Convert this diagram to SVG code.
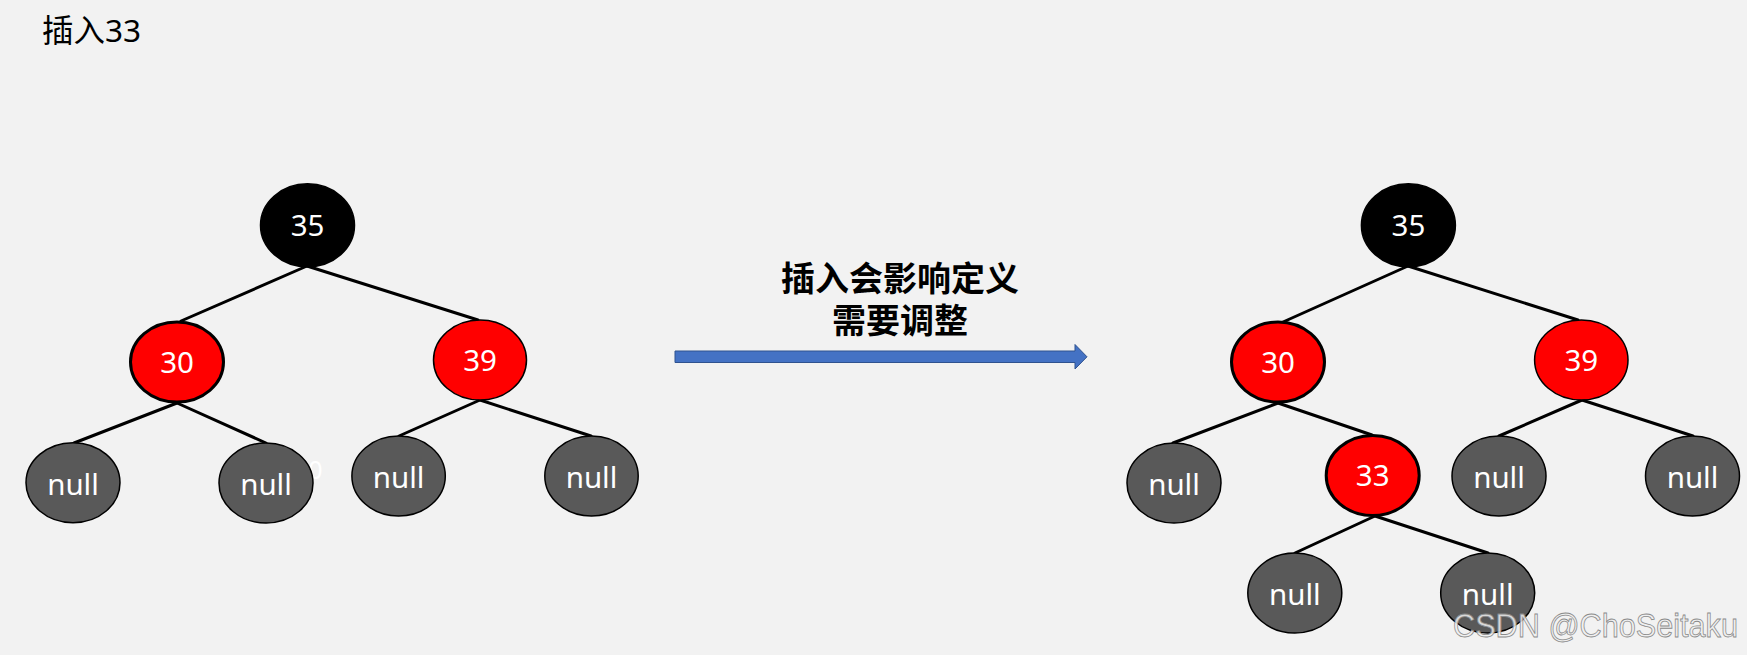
<svg xmlns="http://www.w3.org/2000/svg" width="1747" height="655" viewBox="0 0 1747 655">
<defs>
<style>
.bg{fill:#F2F2F2}
.edge{stroke:#000;stroke-width:3;fill:none;stroke-linecap:round}
.blk{fill:#000;stroke:#000;stroke-width:1.5}
.red{fill:#FF0000;stroke:#000;stroke-width:1.5}
.red2{fill:#FF0000;stroke:#000;stroke-width:3}
.nul{fill:#595959;stroke:#000;stroke-width:1.5}
.lbl{font-family:"Noto Sans","Open Sans","Liberation Sans",sans-serif;font-size:29.5px;fill:#fff;text-anchor:middle}
.cap{font-family:"Noto Sans CJK SC","Noto Sans",sans-serif;font-weight:bold;font-size:34px;fill:#000;text-anchor:middle}
.title{font-family:"Noto Sans","Noto Sans CJK SC",sans-serif;font-size:31.5px;fill:#000}
.wm{font-family:"Liberation Sans",Arial,sans-serif;font-size:33px;fill:#f0f0f0;fill-opacity:0.85;stroke:#8a8a8a;stroke-width:0.8}
</style>
</defs>
<rect class="bg" x="0" y="0" width="1747" height="655"/>
<text class="title" x="42" y="42">插入33</text>

<g id="connectors">
<line class="edge" x1="307" y1="266" x2="181" y2="321"/>
<line class="edge" x1="307" y1="266" x2="478" y2="320"/>
<line class="edge" x1="177" y1="403" x2="74" y2="443"/>
<line class="edge" x1="177" y1="403" x2="266" y2="443"/>
<line class="edge" x1="480" y1="400" x2="399" y2="436"/>
<line class="edge" x1="480" y1="400" x2="591" y2="436"/>

<line class="edge" x1="1408" y1="266" x2="1283" y2="322"/>
<line class="edge" x1="1408" y1="266" x2="1578" y2="320"/>
<line class="edge" x1="1278" y1="403" x2="1173" y2="443"/>
<line class="edge" x1="1278" y1="403" x2="1372" y2="435"/>
<line class="edge" x1="1582" y1="400" x2="1499" y2="436"/>
<line class="edge" x1="1582" y1="400" x2="1693" y2="436"/>
<line class="edge" x1="1375" y1="516" x2="1295" y2="553"/>
<line class="edge" x1="1375" y1="516" x2="1488" y2="553"/>
<path id="arrow" d="M675,351 L1075,351 L1075,344.5 L1087,356.8 L1075,369 L1075,362.5 L675,362.5 Z" fill="#4472C4" stroke="#2F528F" stroke-width="1"/>
</g>

<text class="cap" x="900" y="291">插入会影响定义</text>
<text class="cap" x="900" y="333">需要调整</text>

<text x="315.5" y="479" style="font-family:'Noto Sans',sans-serif;font-size:25px;fill:#fff;text-anchor:middle">0</text>

<g id="L35"><ellipse class="blk" cx="307.5" cy="225.3" rx="47" ry="41.5"/><text class="lbl" x="307.5" y="236">35</text></g>
<g id="L30"><ellipse class="red2" cx="177" cy="362" rx="46.5" ry="40"/><text class="lbl" x="177" y="372.5">30</text></g>
<g id="L39"><ellipse class="red" cx="480" cy="360" rx="46.5" ry="40"/><text class="lbl" x="480" y="370.5">39</text></g>
<g id="Lnull1"><ellipse class="nul" cx="73" cy="482.7" rx="47" ry="40"/><text class="lbl" x="73" y="494.5">null</text></g>
<g id="Lnull2"><ellipse class="nul" cx="266" cy="483" rx="47" ry="40"/><text class="lbl" x="266" y="494.5">null</text></g>
<g id="Lnull3"><ellipse class="nul" cx="398.6" cy="476" rx="46.7" ry="40"/><text class="lbl" x="398.6" y="487.5">null</text></g>
<g id="Lnull4"><ellipse class="nul" cx="591.5" cy="476" rx="46.7" ry="40"/><text class="lbl" x="591.5" y="487.5">null</text></g>

<g id="R35"><ellipse class="blk" cx="1408.4" cy="225.3" rx="47" ry="41.5"/><text class="lbl" x="1408.4" y="236">35</text></g>
<g id="R30"><ellipse class="red2" cx="1278" cy="362" rx="46.5" ry="40"/><text class="lbl" x="1278" y="372.5">30</text></g>
<g id="R39"><ellipse class="red" cx="1581.3" cy="360" rx="46.7" ry="40"/><text class="lbl" x="1581.3" y="370.5">39</text></g>
<g id="Rnull1"><ellipse class="nul" cx="1174" cy="483" rx="47" ry="40"/><text class="lbl" x="1174" y="494.5">null</text></g>
<g id="R33"><ellipse class="red2" cx="1372.7" cy="475.5" rx="46.5" ry="40"/><text class="lbl" x="1372.7" y="486">33</text></g>
<g id="Rnull2"><ellipse class="nul" cx="1499" cy="476" rx="47" ry="40"/><text class="lbl" x="1499" y="487.5">null</text></g>
<g id="Rnull3"><ellipse class="nul" cx="1692.5" cy="476" rx="47" ry="40"/><text class="lbl" x="1692.5" y="487.5">null</text></g>
<g id="Rnull4"><ellipse class="nul" cx="1294.8" cy="593" rx="47" ry="40"/><text class="lbl" x="1294.8" y="604.5">null</text></g>
<g id="Rnull5"><ellipse class="nul" cx="1487.7" cy="593" rx="47" ry="40"/><text class="lbl" x="1487.7" y="604.5">null</text></g>

<text class="wm" x="1453" y="636.5" textLength="285" lengthAdjust="spacingAndGlyphs">CSDN @ChoSeitaku</text>
</svg>
